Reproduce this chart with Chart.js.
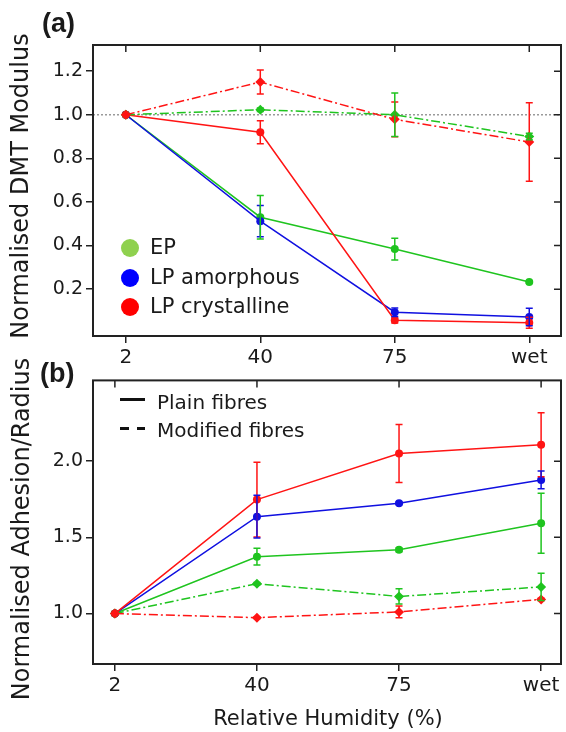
<!DOCTYPE html>
<html>
<head>
<meta charset="utf-8">
<script src="https://cdn.jsdelivr.net/npm/chart.js@4.4.1/dist/chart.umd.min.js"></script>
<style>
  body { margin: 0; background: #fff; }
  #wrap { position: relative; width: 566px; height: 732px; font-family: "DejaVu Sans", sans-serif; color: #1a1a1a; overflow: hidden; }
  canvas { position: absolute; left: 0; }
  .t { position: absolute; white-space: nowrap; line-height: 1; }
  .rot { transform: translate(-50%, -50%) rotate(-90deg); }
  .ctr { transform: translate(-50%, -50%); }
  .dot { position: absolute; width: 18px; height: 18px; border-radius: 50%; }
  .bar { position: absolute; height: 3px; background: #111; }
</style>
</head>
<body>
<div id="wrap">
  <canvas id="chartA" width="566" height="366" style="top:0"></canvas>
  <canvas id="chartB" width="566" height="366" style="top:366px"></canvas>

  <div class="t" style="left:42px;top:8px;font:bold 27px 'Liberation Sans';">(a)</div>
  <div class="t" style="left:40px;top:358px;font:bold 27px 'Liberation Sans';">(b)</div>

  <div class="t rot" style="left:20px;top:186px;font-size:24px;">Normalised DMT Modulus</div>
  <div class="t rot" style="left:21px;top:529px;font-size:24px;">Normalised Adhesion/Radius</div>
  <div class="t ctr" style="left:328px;top:718px;font-size:21px;">Relative Humidity (%)</div>

  <!-- legend (a) -->
  <div class="dot" style="left:121px;top:239px;background:#8fd14f"></div>
  <div class="dot" style="left:121px;top:269px;background:#0000ff"></div>
  <div class="dot" style="left:121px;top:298px;background:#ff0000"></div>
  <div class="t" style="left:150px;top:237px;font-size:21px;">EP</div>
  <div class="t" style="left:150px;top:267px;font-size:21px;">LP amorphous</div>
  <div class="t" style="left:150px;top:296px;font-size:21px;">LP crystalline</div>

  <!-- legend (b) -->
  <div class="bar" style="left:120px;top:398px;width:25px"></div>
  <div class="bar" style="left:120px;top:427px;width:9px"></div>
  <div class="bar" style="left:137px;top:427px;width:8px"></div>
  <div class="t" style="left:157px;top:392px;font-size:20px;">Plain fibres</div>
  <div class="t" style="left:157px;top:420px;font-size:20px;">Modified fibres</div>
</div>

<script>
/* globals Chart:false */
(function () {
  'use strict'

  var humidity = ['2', '40', '75', 'wet'];
  var ticksA = [0.2, 0.4, 0.6, 0.8, 1.0, 1.2];
  var ticksB = [1.0, 1.5, 2.0];

  // (a) normalised DMT modulus, values and +/- error
  var epPlainA = [1.0, 0.53, 0.384, 0.233];
  var epPlainAErr = [0, 0.10, 0.05, 0.005];
  var lpAmPlainA = [1.0, 0.512, 0.094, 0.072];
  var lpAmPlainAErr = [0, 0.072, 0.02, 0.04];
  var lpCrPlainA = [1.0, 0.92, 0.057, 0.046];
  var lpCrPlainAErr = [0, 0.053, 0.012, 0.025];
  var epModA = [1.0, 1.023, 1.0, 0.90];
  var epModAErr = [0, 0.008, 0.10, 0.015];
  var lpCrModA = [1.0, 1.15, 0.979, 0.875];
  var lpCrModAErr = [0, 0.055, 0.08, 0.18];

  // (b) normalised adhesion / radius
  var epPlainB = [1.0, 1.373, 1.418, 1.592];
  var epPlainBErr = [0, 0.055, 0.012, 0.197];
  var lpAmPlainB = [1.0, 1.636, 1.724, 1.877];
  var lpAmPlainBErr = [0, 0.14, 0.008, 0.058];
  var lpCrPlainB = [1.0, 1.748, 2.05, 2.107];
  var lpCrPlainBErr = [0, 0.245, 0.19, 0.21];
  var epModB = [1.0, 1.196, 1.112, 1.175];
  var epModBErr = [0, 0.008, 0.05, 0.09];
  var lpCrModB = [1.0, 0.973, 1.011, 1.093];
  var lpCrModBErr = [0, 0.005, 0.038, 0.008];

  var GREEN = '#1fc41f', BLUE = '#1010e0', RED = '#ff1414';
  var DASHDOT = [9, 3, 2, 3];

  function pts(vals) {
    return vals.map(function (v, i) { return { x: i, y: v }; });
  }

  function series(vals, err, color, modified) {
    return {
      data: pts(vals),
      err: err,
      borderColor: color,
      backgroundColor: color,
      borderWidth: 1.5,
      borderDash: modified ? DASHDOT : [],
      pointStyle: modified ? 'rectRot' : 'circle',
      pointRadius: modified ? 5 : 4,
      pointBorderWidth: 0,
      tension: 0
    };
  }

  // error bars, drawn through the y scale
  var errorBars = {
    id: 'errorBars',
    afterDatasetsDraw: function (chart) {
      var ctx = chart.ctx, ys = chart.scales.y;
      ctx.save();
      ctx.lineWidth = 1.5;
      chart.data.datasets.forEach(function (ds, i) {
        var meta = chart.getDatasetMeta(i);
        ctx.strokeStyle = ds.borderColor;
        ds.data.forEach(function (p, j) {
          var e = ds.err[j];
          if (!e) return;
          var x = meta.data[j].x;
          var hi = ys.getPixelForValue(p.y + e), lo = ys.getPixelForValue(p.y - e);
          ctx.beginPath();
          ctx.moveTo(x, hi); ctx.lineTo(x, lo);
          ctx.moveTo(x - 3.5, hi); ctx.lineTo(x + 3.5, hi);
          ctx.moveTo(x - 3.5, lo); ctx.lineTo(x + 3.5, lo);
          ctx.stroke();
        });
      });
      ctx.restore();
    }
  };

  // box frame with inward ticks on top and right, optional reference line
  var frame = {
    id: 'frame',
    beforeDatasetsDraw: function (chart, args, opts) {
      if (opts.refLine === undefined) return;
      var a = chart.chartArea, ctx = chart.ctx;
      var y = chart.scales.y.getPixelForValue(opts.refLine);
      ctx.save();
      ctx.strokeStyle = '#9a9a9a';
      ctx.lineWidth = 1.5;
      ctx.setLineDash([2, 2]);
      ctx.beginPath(); ctx.moveTo(a.left, y); ctx.lineTo(a.right, y); ctx.stroke();
      ctx.restore();
    },
    afterDraw: function (chart) {
      var a = chart.chartArea, ctx = chart.ctx;
      var xs = chart.scales.x, ys = chart.scales.y;
      ctx.save();
      ctx.strokeStyle = '#222';
      ctx.lineWidth = 2;
      ctx.strokeRect(a.left, a.top, a.right - a.left, a.bottom - a.top);
      ctx.lineWidth = 1.5;
      ctx.beginPath();
      xs.ticks.forEach(function (t) {
        var px = xs.getPixelForValue(t.value);
        ctx.moveTo(px, a.top); ctx.lineTo(px, a.top + 7);
      });
      ys.ticks.forEach(function (t) {
        var py = ys.getPixelForValue(t.value);
        ctx.moveTo(a.right, py); ctx.lineTo(a.right - 7, py);
      });
      ctx.stroke();
      ctx.restore();
    }
  };

  function makeChart(id, datasets, o) {
    return new Chart(document.getElementById(id).getContext('2d'), {
      type: 'line',
      data: { datasets: datasets },
      plugins: [errorBars, frame],
      options: {
        responsive: false,
        animation: false,
        devicePixelRatio: 1,
        layout: { padding: { top: o.top, right: 2, left: 0, bottom: 0 } },
        plugins: {
          legend: { display: false },
          tooltip: { enabled: false },
          frame: { refLine: o.refLine }
        },
        scales: {
          x: {
            type: 'linear',
            min: o.xMin, max: o.xMax,
            border: { display: false },
            grid: { drawOnChartArea: false, drawTicks: true, tickLength: 7, color: '#222', lineWidth: 1.5 },
            afterBuildTicks: function (s) { s.ticks = humidity.map(function (c, i) { return { value: i }; }); },
            afterFit: function (s) { s.height = o.xHeight; },
            ticks: {
              padding: 3,
              color: '#1a1a1a',
              font: { family: 'DejaVu Sans', size: 20 },
              callback: function (v) { return humidity[v]; }
            }
          },
          y: {
            min: o.yMin, max: o.yMax,
            border: { display: false },
            grid: { drawOnChartArea: false, drawTicks: true, tickLength: 7, color: '#222', lineWidth: 1.5 },
            afterBuildTicks: function (s) { s.ticks = o.yTicks.map(function (v) { return { value: v }; }); },
            afterFit: function (s) { s.width = 93; },
            ticks: {
              padding: 3,
              color: '#1a1a1a',
              font: { family: 'DejaVu Sans', size: 19 },
              callback: function (v) { return Number(v).toFixed(1); }
            }
          }
        }
      }
    });
  }

  // first dataset is drawn on top
  makeChart('chartA', [
    series(lpCrModA, lpCrModAErr, RED, true),
    series(epModA, epModAErr, GREEN, true),
    series(lpCrPlainA, lpCrPlainAErr, RED, false),
    series(lpAmPlainA, lpAmPlainAErr, BLUE, false),
    series(epPlainA, epPlainAErr, GREEN, false)
  ], { top: 45, xHeight: 30, xMin: -0.244, xMax: 3.236, yMin: -0.015, yMax: 1.32, yTicks: ticksA, refLine: 1.0 });

  makeChart('chartB', [
    series(lpCrModB, lpCrModBErr, RED, true),
    series(epModB, epModBErr, GREEN, true),
    series(lpCrPlainB, lpCrPlainBErr, RED, false),
    series(lpAmPlainB, lpAmPlainBErr, BLUE, false),
    series(epPlainB, epPlainBErr, GREEN, false)
  ], { top: 5, xHeight: 68, xMin: -0.154, xMax: 3.14, yMin: 0.669, yMax: 2.53, yTicks: ticksB });

})()
</script>
</body>
</html>
